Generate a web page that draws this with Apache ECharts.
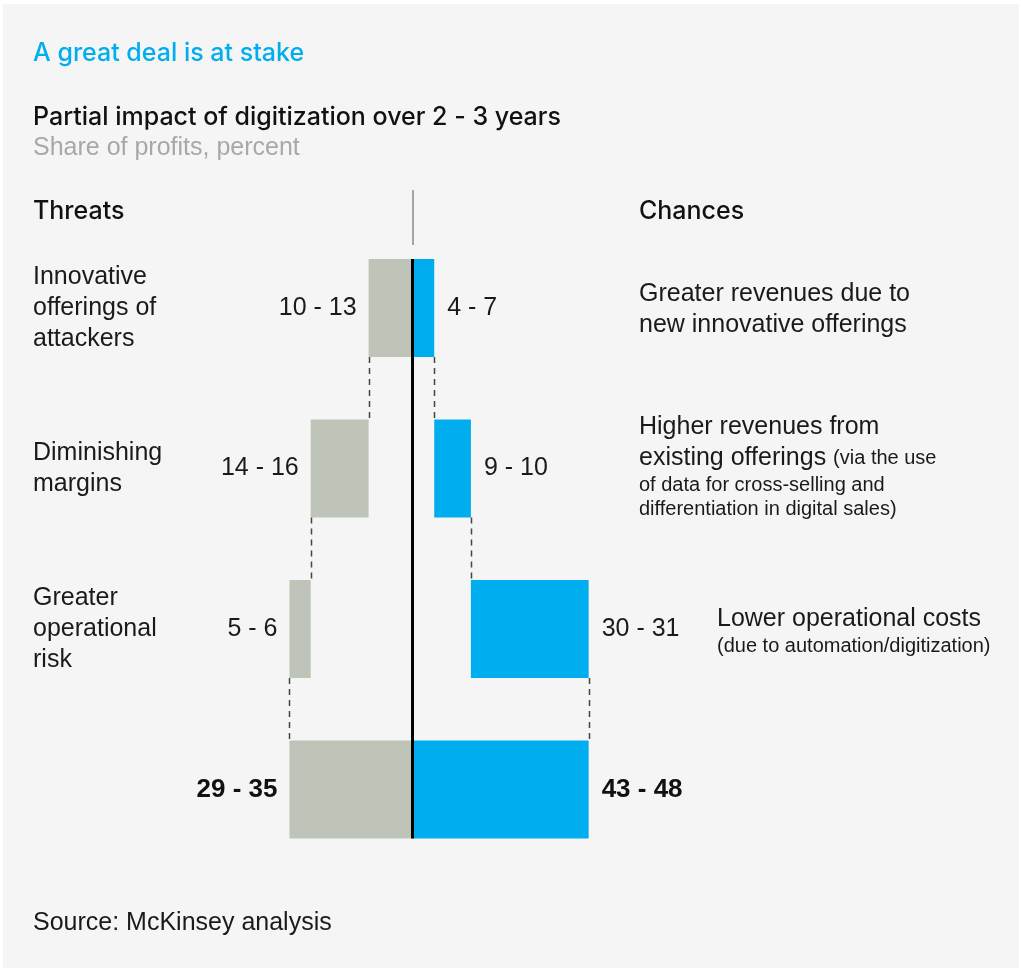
<!DOCTYPE html>
<html>
<head>
<meta charset="utf-8">
<script src="https://cdn.jsdelivr.net/npm/echarts@6/dist/echarts.min.js"></script>
<style>
html,body{margin:0;padding:0;background:#ffffff;}
#chart{width:1021px;height:971px;}
</style>
</head>
<body>
<div id="chart"></div>
<script>
// ---- data ----
const categories = ['Innovative\nofferings of\nattackers', 'Diminishing\nmargins', 'Greater\noperational\nrisk', ''];
const threatLow = [10, 14, 5, 29];
const threatHigh = [13, 16, 6, 35];
const chanceLow = [4, 9, 30, 43];
const chanceHigh = [7, 10, 31, 48];
// bar lengths (share of profits, percent)
const threatValues = [11.5, 15, 5.5, 32];
const chanceValues = [5.5, 9.5, 30.5, 45.5];
const chanceTexts = [
  'Greater revenues due to\nnew innovative offerings',
  'Higher revenues from\nexisting offerings (via the use\nof data for cross-selling and\ndifferentiation in digital sales)',
  'Lower operational costs\n(due to automation/digitization)'
];

// ---- waterfall bases ----
function bases(vals) {
  const out = [];
  let acc = 0;
  for (let i = 0; i < vals.length; i++) {
    if (i === vals.length - 1) { out.push(0); } else { out.push(acc); acc += vals[i]; }
  }
  return out;
}
const threatBase = bases(threatValues).map(v => -v);
const chanceBase = bases(chanceValues);
const threatEnds = threatValues.slice(0, 3).map((v, i) => [threatBase[i] - v, i]);
const chanceEnds = chanceValues.slice(0, 3).map((v, i) => [chanceBase[i] + v, i]);

const BODY = 'Liberation Sans, Arial, sans-serif';
const HEAD = 'Inter, Liberation Sans, sans-serif';
const BAR_W = 98;
const TXT = '#1a1a1a';

const chart = echarts.init(document.getElementById('chart'));
chart.setOption({
  backgroundColor: '#ffffff',
  animation: false,
  graphic: [
    { type: 'rect', z: -10, shape: { x: 3, y: 4, width: 1016, height: 964 }, style: { fill: '#f5f5f5' } },
    { type: 'text', style: { text: 'A great deal is at stake', x: 33, y: 53, verticalAlign: 'middle', fontFamily: HEAD, fontWeight: 500, fontSize: 25, fill: '#00aeef' } },
    { type: 'text', style: { text: 'Partial impact of digitization over 2 - 3 years', x: 33, y: 117, verticalAlign: 'middle', fontFamily: HEAD, fontWeight: 500, fontSize: 25, fill: '#111' } },
    { type: 'text', style: { text: 'Share of profits, percent', x: 33, y: 148, verticalAlign: 'middle', fontFamily: BODY, fontSize: 25, fill: '#a8a8a8' } },
    { type: 'text', style: { text: 'Threats', x: 33, y: 211, verticalAlign: 'middle', fontFamily: HEAD, fontWeight: 500, fontSize: 25, fill: '#111' } },
    { type: 'text', style: { text: 'Chances', x: 639, y: 211, verticalAlign: 'middle', fontFamily: HEAD, fontWeight: 500, fontSize: 25, fill: '#111' } },
    { type: 'text', style: { text: chanceTexts[0], x: 639, y: 278.5, verticalAlign: 'top', fontFamily: BODY, fontSize: 25, lineHeight: 31, fill: TXT } },
    { type: 'text', style: {
        text: '{b|Higher revenues from}\n{b|existing offerings }{s|(via the use}\n{s|of data for cross-selling and}\n{s|differentiation in digital sales)}',
        x: 639, y: 411.5, verticalAlign: 'top',
        rich: {
          b: { fontFamily: BODY, fontSize: 25, lineHeight: 31, fill: TXT, color: TXT },
          s: { fontFamily: BODY, fontSize: 20, lineHeight: 24, fill: TXT, color: TXT }
        } } },
    { type: 'text', style: {
        text: '{b|Lower operational costs}\n{s|(due to automation/digitization)}',
        x: 717, y: 603.5, verticalAlign: 'top',
        rich: {
          b: { fontFamily: BODY, fontSize: 25, lineHeight: 31, fill: TXT, color: TXT },
          s: { fontFamily: BODY, fontSize: 20, lineHeight: 24, fill: TXT, color: TXT }
        } } },
    { type: 'text', style: { text: 'Source: McKinsey analysis', x: 33, y: 923, verticalAlign: 'middle', fontFamily: BODY, fontSize: 25, fill: TXT } }
  ],
  grid: { left: 258.6, width: 386, top: 227.75, height: 642 },
  xAxis: { type: 'value', min: -40, max: 60, show: false, splitLine: { show: false } },
  yAxis: {
    type: 'category', inverse: true, data: categories,
    axisLine: { show: false }, axisTick: { show: false }, splitLine: { show: false },
    axisLabel: { align: 'left', margin: 225.6, fontFamily: BODY, fontSize: 25, lineHeight: 31, color: TXT }
  },
  series: [
    { type: 'bar', stack: 'w', barWidth: BAR_W, silent: true, data: threatBase, itemStyle: { color: 'rgba(0,0,0,0)' } },
    { type: 'bar', stack: 'w', barWidth: BAR_W, data: threatValues.map(v => -v), itemStyle: { color: '#bfc4b9' },
      label: { show: true, position: 'left', distance: 12, fontFamily: BODY, fontSize: 25, color: TXT,
        formatter: p => p.dataIndex === 3 ? '{t|' + threatLow[p.dataIndex] + ' - ' + threatHigh[p.dataIndex] + '}' : threatLow[p.dataIndex] + ' - ' + threatHigh[p.dataIndex],
        rich: { t: { fontFamily: BODY, fontSize: 26, fontWeight: 'bold', color: '#111' } } } },
    { type: 'bar', stack: 'w', barWidth: BAR_W, silent: true, data: chanceBase, itemStyle: { color: 'rgba(0,0,0,0)' } },
    { type: 'bar', stack: 'w', barWidth: BAR_W, data: chanceValues, itemStyle: { color: '#00aeef' },
      label: { show: true, position: 'right', distance: 13, fontFamily: BODY, fontSize: 25, color: TXT,
        formatter: p => p.dataIndex === 3 ? '{t|' + chanceLow[p.dataIndex] + ' - ' + chanceHigh[p.dataIndex] + '}' : chanceLow[p.dataIndex] + ' - ' + chanceHigh[p.dataIndex],
        rich: { t: { fontFamily: BODY, fontSize: 26, fontWeight: 'bold', color: '#111' } } } },
    { type: 'custom', z: 5, silent: true, encode: { x: 0, y: 1 }, data: threatEnds.concat(chanceEnds),
      renderItem: (params, api) => {
        const p = api.coord([api.value(0), api.value(1)]);
        const band = api.size([0, 1])[1];
        const x = Math.round(p[0]) + 0.5;
        return { type: 'line', shape: { x1: x, y1: p[1] + BAR_W / 2, x2: x, y2: p[1] + band - BAR_W / 2 },
          style: { stroke: '#444', lineWidth: 1.5, lineDash: [6, 5] } };
      } },
    { type: 'custom', z: 6, silent: true, encode: { x: 0, y: 1 }, data: [[0, 0]],
      renderItem: (params, api) => {
        const top = api.coord([0, 0]);
        const bot = api.coord([0, categories.length - 1]);
        const x = Math.round(top[0]) - 0.5;
        return { type: 'group', children: [
          { type: 'line', shape: { x1: x, y1: top[1] - BAR_W / 2, x2: x, y2: bot[1] + BAR_W / 2 }, style: { stroke: '#000', lineWidth: 3 } },
          { type: 'line', shape: { x1: x + 0.5, y1: top[1] - BAR_W / 2 - 69, x2: x + 0.5, y2: top[1] - BAR_W / 2 - 14 }, style: { stroke: '#555', lineWidth: 1 } }
        ] };
      } }
  ]
});
</script>
</body>
</html>
